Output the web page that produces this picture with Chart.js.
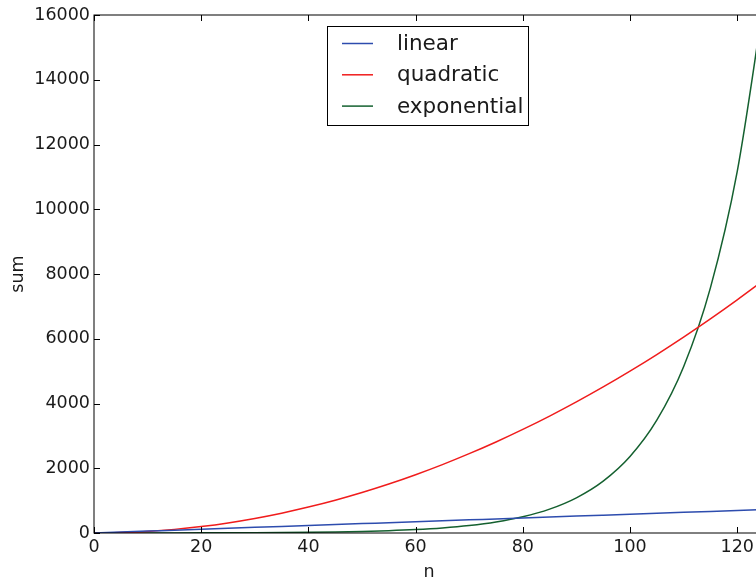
<!DOCTYPE html>
<html>
<head>
<meta charset="utf-8">
<script src="https://cdn.jsdelivr.net/npm/chart.js@4"></script>
<style>
  html, body { margin: 0; padding: 0; background: #fff; overflow: hidden; }
  #wrap { position: relative; width: 780px; height: 581px; }
</style>
</head>
<body>
<div id="wrap"><canvas id="chart"></canvas></div>
<script>
// values
const nValues = [0, 5, 10, 15, 20, 25, 30, 35, 40, 45, 50, 55, 60, 65, 70, 75, 80, 85, 90, 95, 100, 105, 110, 115, 120, 125];
const linearSum = [0, 29, 58, 87, 116, 145, 174, 203, 232, 261, 290, 319, 348, 377, 406, 435, 464, 493, 522, 551, 580, 609, 638, 667, 696, 725];
const quadraticSum = [0, 12, 50, 112, 200, 312, 450, 612, 800, 1012, 1250, 1512, 1800, 2112, 2450, 2812, 3200, 3612, 4050, 4512, 5000, 5512, 6050, 6612, 7200, 7812];
const exponentialSum = [1, 1.5, 2.2, 3.2, 4.7, 7, 10, 15, 22, 33, 49, 72, 106, 156, 230, 339, 500, 737, 1087, 1602, 2362, 3483, 5135, 7572, 11164, 16460];
const seriesNames = ['linear', 'quadratic', 'exponential'];
const seriesColors = ['#2d4cae', '#f01c1c', '#14602f'];
const xTicks = [0, 20, 40, 60, 80, 100, 120];
const yTicks = [0, 2000, 4000, 6000, 8000, 10000, 12000, 14000, 16000];
const xTitle = 'n';
const yTitle = 'sum';

const FONT = "'DejaVu Sans', sans-serif";

function toPoints(values) {
    return nValues.map(function(n, i) { return { x: n, y: values[i] }; });
}

// frame, inward tick marks, axis titles and legend box
const framePlugin = {
    id: 'frame',
    afterDraw: function(chart) {
        const ctx = chart.ctx;
        const area = chart.chartArea;
        const xs = chart.scales.x;
        const ys = chart.scales.y;
        ctx.save();
        ctx.strokeStyle = '#000';
        ctx.lineWidth = 1;
        ctx.strokeRect(area.left, area.top, area.right - area.left, area.bottom - area.top);

        ctx.beginPath();
        xs.ticks.forEach(function(t) {
            const px = Math.round(xs.getPixelForValue(t.value)) + 0.5;
            ctx.moveTo(px, area.bottom); ctx.lineTo(px, area.bottom - 6);
            ctx.moveTo(px, area.top); ctx.lineTo(px, area.top + 6);
        });
        ys.ticks.forEach(function(t) {
            const py = Math.round(ys.getPixelForValue(t.value)) + 0.5;
            ctx.moveTo(area.left, py); ctx.lineTo(area.left + 6, py);
            ctx.moveTo(area.right, py); ctx.lineTo(area.right - 6, py);
        });
        ctx.stroke();

        // axis titles
        ctx.fillStyle = '#1a1a1a';
        ctx.font = '17.5px ' + FONT;
        ctx.textAlign = 'center';
        ctx.textBaseline = 'middle';
        ctx.fillText(xTitle, (area.left + area.right) / 2, 572);
        ctx.save();
        ctx.translate(18, (area.top + area.bottom) / 2);
        ctx.rotate(-Math.PI / 2);
        ctx.fillText(yTitle, 0, 0);
        ctx.restore();

        // legend
        const box = { x: 327.5, y: 26.5, w: 201, h: 99 };
        ctx.fillStyle = '#fff';
        ctx.fillRect(box.x, box.y, box.w, box.h);
        ctx.strokeStyle = '#000';
        ctx.strokeRect(box.x, box.y, box.w, box.h);
        ctx.font = '21.5px ' + FONT;
        ctx.textAlign = 'left';
        chart.data.datasets.forEach(function(ds, i) {
            const y = 43.5 + i * 31.3;
            ctx.strokeStyle = ds.borderColor;
            ctx.lineWidth = 1.5;
            ctx.beginPath();
            ctx.moveTo(342, y); ctx.lineTo(373, y);
            ctx.stroke();
            ctx.fillStyle = '#1a1a1a';
            ctx.fillText(ds.label, 397, y + 1);
        });
        ctx.restore();
    }
};

const datasets = [linearSum, quadraticSum, exponentialSum].map(function(values, i) {
    return {
        label: seriesNames[i],
        data: toPoints(values),
        borderColor: seriesColors[i],
        backgroundColor: seriesColors[i],
        borderWidth: 1.5,
        pointRadius: 0,
        cubicInterpolationMode: 'monotone',
        fill: false
    };
});

new Chart(document.getElementById('chart'), {
    type: 'line',
    data: { datasets: datasets },
    options: {
        responsive: true,
        maintainAspectRatio: false,
        animation: false,
        layout: { padding: { top: 15, right: 16, left: 0, bottom: 0 } },
        plugins: {
            legend: { display: false },
            tooltip: { enabled: false }
        },
        scales: {
            x: {
                type: 'linear',
                min: 0,
                max: 125,
                afterBuildTicks: function(scale) {
                    scale.ticks = xTicks.map(function(v) { return { value: v }; });
                },
                afterFit: function(scale) { scale.height = 48; },
                ticks: {
                    autoSkip: false,
                    color: '#1a1a1a',
                    font: { family: FONT, size: 17.5 },
                    padding: 4,
                    maxRotation: 0,
                    callback: function(v) { return String(v); }
                },
                grid: { display: false, drawTicks: false },
                border: { display: false }
            },
            y: {
                min: 0,
                max: 16000,
                afterBuildTicks: function(scale) {
                    scale.ticks = yTicks.map(function(v) { return { value: v }; });
                },
                afterFit: function(scale) { scale.width = 94; },
                ticks: {
                    autoSkip: false,
                    color: '#1a1a1a',
                    font: { family: FONT, size: 17.5 },
                    padding: 4,
                    callback: function(v) { return String(v); }
                },
                grid: { display: false, drawTicks: false },
                border: { display: false }
            }
        }
    },
    plugins: [framePlugin]
});
</script>
</body>
</html>
